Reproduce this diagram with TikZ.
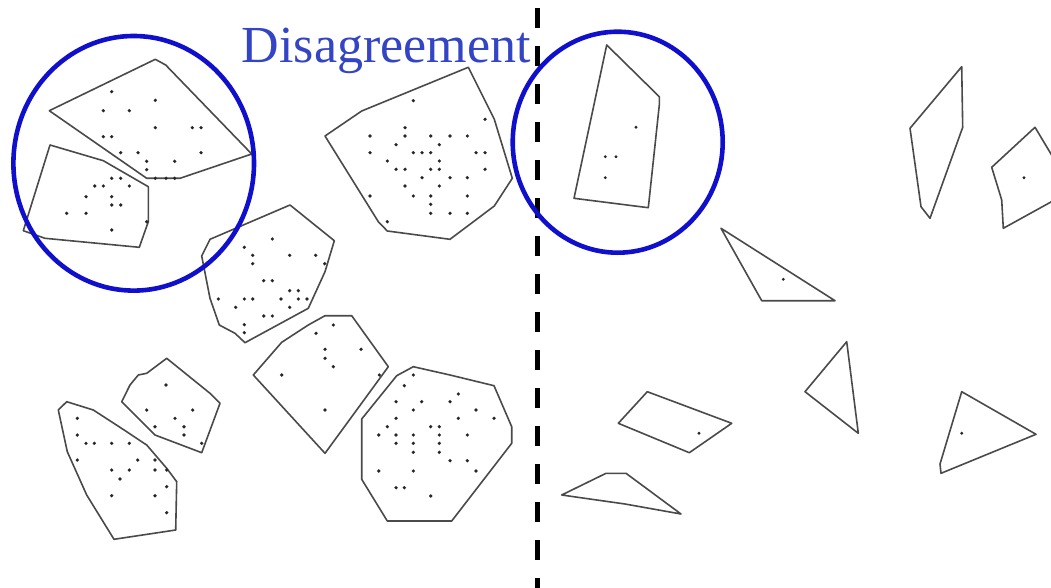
\documentclass[tikz,border=0pt]{standalone}
\usepackage{fontspec}
\setmainfont{Liberation Serif}
\usepackage{tikz}
\definecolor{hullGris}{HTML}{4A4A4A}
\definecolor{circAzul}{HTML}{1010CC}
\definecolor{textoAzul}{HTML}{3344C4}

\begin{document}
\begin{tikzpicture}[
    x=1pt, y=-1pt,
    hull/.style={draw=hullGris, line width=1.6pt, line join=round},
    ring/.style={draw=circAzul, line width=4.6pt},
    punto/.style={fill=black!85},
    separa/.style={draw=black, line width=5pt, dash pattern=on 20pt off 18pt},
    etiq/.style={text=textoAzul, font=\fontsize{52}{52}\selectfont, anchor=base west, inner sep=0pt}
]
    \useasboundingbox (0,0) rectangle (1051,588);
    \clip (0,0) rectangle (1051,588);

    % left side: clusters
    \draw[hull] (49.3,110.7) -- (155.3,59.3) -- (165.7,65) -- (251.7,154) -- (180,178.3) -- (146.7,178.3) -- cycle;
    \draw[hull] (50,145) -- (103.3,160.7) -- (148.3,186.7) -- (148.3,221.7) -- (139.3,247.3) -- (45,238.3) -- (23.3,230.7) -- cycle;
    \draw[hull] (290,205) -- (334.3,240.7) -- (325,271.7) -- (308.3,308.3) -- (245,342.7) -- (235,333.3) -- (219.3,325) -- (210,298.3) -- (201.7,256) -- (210,239.3) -- cycle;
    \draw[hull] (325,136) -- (361.7,111) -- (468.3,67.3) -- (494.3,119.3) -- (512.3,178.3) -- (494.3,206) -- (450,239.3) -- (387.3,231) -- (378.3,221.7) -- cycle;
    \draw[hull] (66.7,401.7) -- (93.3,410) -- (120,427.3) -- (146.7,445) -- (166.7,468.3) -- (176.7,481.7) -- (175.7,530) -- (114,539.3) -- (86.7,495) -- (67.3,451.7) -- (58.3,410) -- cycle;
    \draw[hull] (166.7,358.3) -- (210,393.3) -- (220,403.3) -- (201.7,452.7) -- (155,435) -- (121.7,401.7) -- (130,385) -- (138.3,375) -- (146.7,373.3) -- cycle;
    \draw[hull] (325,315.7) -- (351.7,315.7) -- (388.3,366.7) -- (325,453.3) -- (253.3,375) -- (281.7,342.3) -- (308.3,325) -- cycle;
    \draw[hull] (413.3,366.7) -- (450,375) -- (494,385.7) -- (511.7,426.7) -- (511.7,443.3) -- (451.7,521) -- (387.3,521) -- (361.7,479.3) -- (361.7,419) -- (396.7,375.7) -- cycle;

    \foreach \x/\y in {111.7/91.7, 155.3/100.3, 103.3/110.7, 129.3/110.7, 155.3/127.7, 192.3/127.7, 201/127.7,
        103.3/136.7, 111.7/136.7, 120.7/152.7, 138/152.7, 201/152.7, 146.7/161.3, 174.7/161.3, 146.7/169.7,
        155.3/178.3, 166/178.3, 174.7/178.3,
        111.7/178.3, 120.7/178.3, 94.7/186, 103.3/186, 129.3/186, 86/196.7, 111.7/196.7, 111.7/205, 120.7/205,
        66.7/213.3, 86/213.3, 111.7/230, 146.7/221.7}
        \fill[punto] (\x,\y) circle (1.8pt);
    \foreach \x/\y in {272.3/239, 244.3/247.3, 252.7/255.3, 289.7/255.3, 315.7/255.3, 252.7/263.7, 324.7/263.7,
        263.7/280.7, 272.3/280.7, 289.7/290.7, 298.3/290.7, 218.3/299, 244.3/299, 252.7/299, 281/299, 298.3/299,
        307/299, 235.7/307.3, 289.7/307.3, 263.7/316, 272.3/316, 244.3/324.7, 244.3/332.7}
        \fill[punto] (\x,\y) circle (1.8pt);
    \foreach \x/\y in {413.3/100.7, 485/119.3, 405/127.7, 370/136, 405/136, 430.7/136, 450/136, 467.3/136,
        396/144.7, 439.3/144.7, 370/152.7, 413.3/152.7, 422/152.7, 430.7/152.7, 476/152.7, 485/152.7,
        387.3/161, 439.3/161, 396/169.3, 405/169.3, 430.7/169.3, 439.3/169.3, 485/169.3, 422/177.7, 450/177.7,
        467.3/177.7, 405/186, 439.3/186, 413.3/196, 430.7/196, 467.3/196, 370/196, 430.7/204.3, 430.7/213.3,
        450/213.3, 467.3/213.3, 387.3/221.7}
        \fill[punto] (\x,\y) circle (1.8pt);
    \foreach \x/\y in {77.3/418.3, 77.3/435, 86/443.3, 94.3/443.3, 111.7/443.3, 129.3/443.3, 137.7/460, 155/460,
        77.3/460, 111.7/470, 129.3/470, 155/470, 166.7/470, 120/479, 166.7/486.7, 111.7/495.7, 155/495.7,
        166.7/512.7,
        166/385, 146.7/410, 192.7/410, 175/418.3, 155/426.7, 184/426.7, 184/435, 201.7/443.3}
        \fill[punto] (\x,\y) circle (1.8pt);
    \foreach \x/\y in {333.3/325, 316/333.3, 325/349.3, 361/349.3, 325/358.3, 333.3/366.7, 281.7/375,
        379.3/375, 325/410,
        413.3/375, 404.3/385.7, 458.3/394, 396/401.7, 421.7/401.7, 450/401.7, 413.3/410, 476/410, 396/418.3,
        458.3/418.3, 494/418.3, 387.3/426.7, 430.7/426.7, 439.3/426.7, 378.7/435, 396/435, 413.3/435,
        439.3/435, 467.3/435, 396/443.3, 413.3/443.3, 439.3/443.3, 413.3/452.3, 439.3/452.3, 450/460.7,
        467.3/460.7, 378.7/471, 413.3/471, 476/471, 396/487.7, 404.3/487.7, 430.7/496}
        \fill[punto] (\x,\y) circle (1.8pt);

    % right side: sparse clusters
    \draw[hull] (606.7,45) -- (659.3,96.7) -- (659.3,105) -- (648.3,207.7) -- (574,198.3) -- cycle;
    \draw[hull] (961.7,66.7) -- (962.7,127.3) -- (930,218.3) -- (921,206.7) -- (910,128.3) -- cycle;
    \draw[hull] (1035,127.3) -- (1060,169) -- (1060,197) -- (1003.3,228.3) -- (1001.7,200) -- (991.7,167.3) -- cycle;
    \draw[hull] (721,228.3) -- (835,300.7) -- (761.7,300.7) -- cycle;
    \draw[hull] (647.3,391.7) -- (731.7,423.3) -- (689.3,452.7) -- (618.3,423.3) -- cycle;
    \draw[hull] (606,473.3) -- (626,473.3) -- (681,514) -- (625,504) -- (561.7,495) -- cycle;
    \draw[hull] (846.7,341.7) -- (858.3,433.3) -- (805,391.7) -- cycle;
    \draw[hull] (961.7,391.7) -- (1036,434.3) -- (941,473.3) -- (940,464) -- cycle;

    \foreach \x/\y in {636/127.3, 605.3/156.7, 616/156.7, 605.3/177.7, 1024/177.7, 783.3/279.3,
        699/433.3, 961.7/433.3}
        \fill[punto] (\x,\y) circle (1.6pt);

    % split and disagreements
    \draw[separa] (537,8) -- (537,588);
    \draw[ring] (133.7,163.3) ellipse [x radius=120.3pt, y radius=127.3pt];
    \draw[ring] (617.7,142.2) ellipse [x radius=105pt, y radius=110.5pt];
    \node[etiq] (etiqueta) at (241.7,62.7) {Disagreement};
\end{tikzpicture}
\end{document}
